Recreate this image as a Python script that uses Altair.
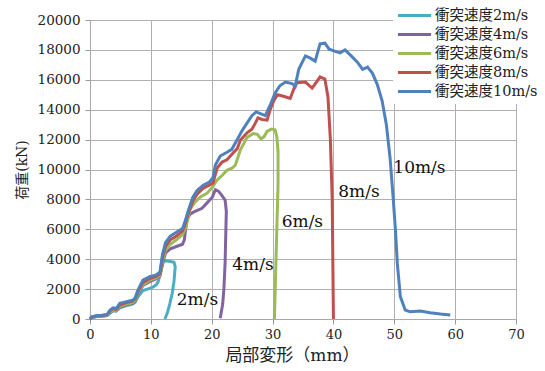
import altair as alt
import pandas as pd

series_names = ["衝突速度2m/s", "衝突速度4m/s", "衝突速度6m/s", "衝突速度8m/s", "衝突速度10m/s"]
series_colors = ["#4BACC6", "#8064A2", "#9BBB59", "#C0504D", "#4F81BD"]

x2 = [0, 0.3, 1, 2, 2.8, 3.3, 3.8, 4.3, 4.9, 6, 7, 7.4, 7.9, 8.7, 9.8, 10.4, 10.9, 11.2, 11.6, 12, 12.5, 13.2, 13.8, 14, 13.8, 13.5, 13.1, 12.7, 12.3]
y2 = [0, 100, 170, 190, 230, 400, 550, 530, 750, 900, 1000, 1100, 1500, 1900, 2050, 2150, 2300, 2500, 3100, 3800, 3900, 3850, 3800, 3500, 2500, 1700, 1000, 400, 0]

x4 = [0, 0.3, 1, 2, 2.8, 3.3, 3.8, 4.3, 4.9, 6, 7, 7.4, 7.9, 8.7, 9.8, 10.9, 11.5, 11.9, 12.4, 13.2, 14.2, 15.2, 15.5, 15.9, 16.4, 17, 18.4, 19.2, 20.1, 20.6, 21.1, 21.6, 22.2, 22.4, 22.3, 22.2, 22, 21.8, 21.4]
y4 = [0, 100, 170, 200, 240, 420, 580, 560, 800, 950, 1050, 1200, 1700, 2250, 2500, 2700, 2900, 3700, 4400, 4700, 4850, 5000, 5300, 6600, 7000, 7150, 7400, 7750, 8150, 8650, 8550, 8300, 7950, 7200, 5500, 3750, 2000, 1000, 50]

x6 = [0, 0.3, 1, 2, 2.8, 3.3, 3.8, 4.3, 4.9, 6, 7, 7.4, 7.9, 8.7, 9.8, 10.9, 11.5, 11.9, 12.4, 13.2, 14.2, 15.2, 15.8, 16.4, 17.2, 18.1, 19.2, 20.1, 20.9, 21.7, 22.5, 23.4, 23.9, 24.7, 25.8, 26.8, 27.5, 28.1, 28.6, 29.1, 29.8, 30.4, 30.7, 30.9, 30.9, 30.7, 30.5, 30.3]
y6 = [0, 100, 180, 200, 250, 450, 600, 580, 850, 1000, 1100, 1250, 1750, 2300, 2600, 2750, 2950, 3900, 4600, 5000, 5300, 5650, 6200, 7300, 7800, 8150, 8400, 8800, 9300, 9600, 9950, 10100, 10300, 11300, 12150, 12400, 12350, 12050, 12200, 12550, 12700, 12650, 12200, 11200, 9000, 6000, 3000, 0]

x8 = [0, 0.3, 1, 2, 2.8, 3.3, 3.8, 4.3, 4.9, 6, 7, 7.4, 7.9, 8.7, 9.8, 10.9, 11.5, 11.9, 12.4, 13.2, 14.2, 15.2, 15.6, 16.1, 16.9, 17.6, 18.6, 19.6, 20.2, 20.9, 21.7, 22.5, 23.5, 24.2, 24.7, 25.8, 26.6, 27.1, 27.6, 28.3, 29.1, 29.6, 30.2, 30.8, 31.8, 32.9, 33.5, 34, 35.4, 36.5, 37.3, 37.8, 38.6, 39.1, 39.5, 39.8, 39.9, 40]
y8 = [0, 120, 200, 230, 280, 550, 700, 650, 950, 1100, 1200, 1350, 1850, 2450, 2700, 2850, 3050, 4100, 4850, 5300, 5550, 5900, 6300, 7000, 7900, 8350, 8750, 8950, 9100, 10100, 10500, 10650, 11100, 11400, 11950, 12450, 12700, 13050, 13450, 13350, 13300, 14000, 14600, 15000, 14900, 14750, 15400, 15800, 15850, 15450, 15900, 16200, 16050, 14850, 12000, 8000, 4000, 0]

x10 = [0, 0.3, 1, 2, 2.8, 3.3, 3.8, 4.3, 4.9, 6, 7, 7.4, 7.9, 8.7, 9.8, 10.9, 11.5, 11.9, 12.4, 13.2, 14.2, 15.2, 15.6, 16.1, 16.9, 17.6, 18.6, 19.6, 20.2, 20.6, 21.4, 22.5, 23.3, 24.2, 25, 25.8, 26.6, 27.3, 28.2, 28.8, 29.6, 30.4, 31.2, 32.1, 33.2, 33.7, 34.3, 35.4, 36.2, 37, 37.8, 38.6, 39.3, 40.3, 41.1, 41.9, 42.8, 43.9, 44.8, 45.6, 46.4, 47.2, 48, 48.7, 49.3, 49.8, 50.2, 50.5, 51, 51.8, 52.6, 54.3, 55.9, 57.6, 59.2]
y10 = [0, 150, 220, 250, 300, 600, 750, 700, 1050, 1150, 1250, 1400, 1950, 2600, 2830, 2950, 3150, 4300, 5100, 5550, 5800, 6050, 6500, 7200, 8150, 8600, 8950, 9150, 9450, 10300, 10900, 11150, 11350, 12000, 12600, 13100, 13600, 13850, 13700, 13600, 14300, 15100, 15600, 15850, 15750, 15550, 16700, 17600, 17450, 17250, 18400, 18450, 18050, 17900, 17800, 18000, 17650, 17200, 16700, 16850, 16450, 15700, 14600, 13000, 10800, 8200, 5900, 3700, 1500, 600, 480, 530, 420, 330, 260]

x_ticks = [0, 10, 20, 30, 40, 50, 60, 70]
y_ticks = [0, 2000, 4000, 6000, 8000, 10000, 12000, 14000, 16000, 18000, 20000]

label_texts = ["2m/s", "4m/s", "6m/s", "8m/s", "10m/s"]
label_x = [14.25, 23.38, 31.5, 40.8, 49.84]
label_y = [1270, 3612, 6508, 8515, 10080]

xs = [x2, x4, x6, x8, x10]
ys = [y2, y4, y6, y8, y10]

rows = []
for si, (name, xv, yv) in enumerate(zip(series_names, xs, ys)):
    for i, (a, b) in enumerate(zip(xv, yv)):
        rows.append({"series": name, "sidx": si, "idx": i, "x": a, "y": b})
df = pd.DataFrame(rows)
lab = pd.DataFrame({"t": label_texts, "x": label_x, "y": label_y})

serif = "DejaVu Serif, Noto Sans CJK JP"

xscale = alt.Scale(domain=[0, 70], nice=False, zero=False)
yscale = alt.Scale(domain=[0, 20000], nice=False)

x_axis = alt.Axis(values=x_ticks, title="局部変形（mm）",
                  titleFont=serif, titleFontSize=17, titleFontWeight="normal",
                  titleColor="#222222", titleX=202, titleY=36,
                  titleBaseline="middle", titleAlign="center",
                  labelFont="DejaVu Serif", labelFontSize=13, labelColor="#222222",
                  labelPadding=4, tickSize=5, tickColor="#999999",
                  labelOverlap=False, labelFlush=False,
                  domainColor="#aaaaaa", gridColor="#b0b0b0")
y_axis = alt.Axis(values=y_ticks, format="d", title="荷重(kN)",
                  titleFont=serif, titleFontSize=14, titleFontWeight="normal",
                  titleColor="#222222", titlePadding=8,
                  labelOverlap=False, labelFlush=False,
                  labelFont="DejaVu Serif", labelFontSize=13.5, labelColor="#222222",
                  labelPadding=5, tickSize=5, tickColor="#999999",
                  domainColor="#aaaaaa", gridColor="#b0b0b0")

color = alt.Color(
    "series:N",
    scale=alt.Scale(domain=series_names, range=series_colors),
    legend=alt.Legend(
        title=None,
        orient="none",
        legendX=303,
        legendY=-17,
        fillColor="white",
        padding=3,
        symbolType="stroke",
        symbolSize=1100,
        symbolStrokeWidth=3,
        clipHeight=19,
        rowPadding=0,
        labelFont=serif,
        labelFontSize=14.5,
        labelColor="#222222",
        labelOffset=2,
    ),
)

layers = []
for si, name in enumerate(series_names):
    layers.append(
        alt.Chart(df[df["series"] == name])
        .mark_line(strokeWidth=3, interpolate="linear")
        .encode(
            x=alt.X("x:Q", scale=xscale, axis=x_axis),
            y=alt.Y("y:Q", scale=yscale, axis=y_axis),
            color=color,
            order="idx:Q",
        )
    )

texts = alt.Chart(lab).mark_text(
    align="left", baseline="middle", font="DejaVu Serif", fontSize=17, color="#111111"
).encode(x=alt.X("x:Q", scale=xscale, axis=x_axis),
         y=alt.Y("y:Q", scale=yscale, axis=y_axis), text="t:N")

chart = alt.layer(*layers, texts).properties(
    width=426, height=299,
    autosize=alt.AutoSizeParams(type="none"),
    padding={"left": 90, "top": 20, "right": 29, "bottom": 52},
).configure_view(stroke=None).configure(background="white")

chart.save("out.html", embed_options={"renderer": "svg", "actions": False})
